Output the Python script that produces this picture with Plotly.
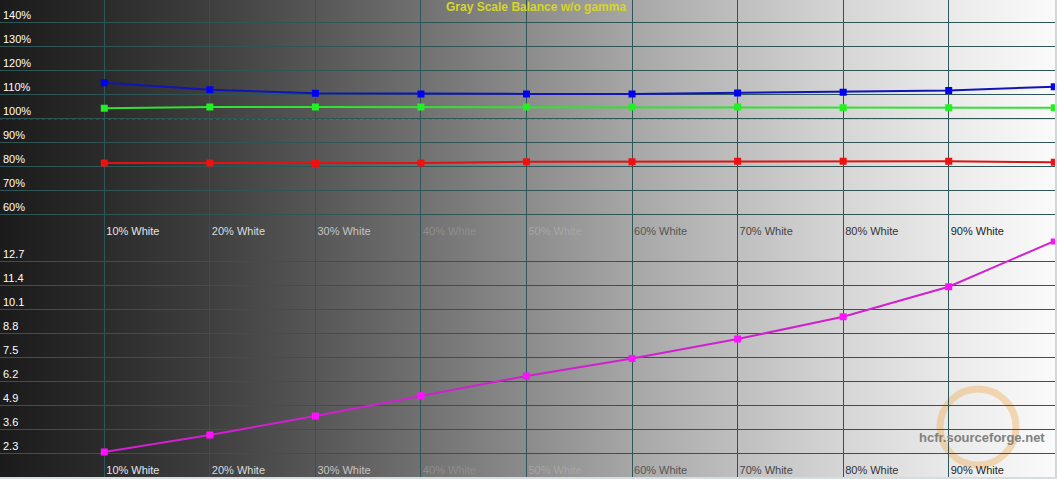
import base64
import plotly.graph_objects as go

# ---------------- data ----------------
levels = [10, 20, 30, 40, 50, 60, 70, 80, 90, 100]
level_labels = ["10% White", "20% White", "30% White", "40% White", "50% White",
                "60% White", "70% White", "80% White", "90% White"]
label_levels = [10, 20, 30, 40, 50, 60, 70, 80, 90]

red_pct = [81.5, 81.5, 81.3, 81.5, 82.0, 82.0, 82.2, 82.2, 82.2, 81.8]
green_pct = [104.3, 104.8, 104.8, 104.8, 104.8, 104.8, 104.8, 104.5, 104.5, 104.5]
blue_pct = [115.0, 112.0, 110.6, 110.3, 110.3, 110.3, 110.7, 111.0, 111.7, 113.3]
delta_e = [2.38, 3.31, 4.34, 5.44, 6.51, 7.45, 8.51, 9.72, 11.35, 13.82]

pct_ticks = [60, 70, 80, 90, 100, 110, 120, 130, 140]
pct_tick_text = ["60%", "70%", "80%", "90%", "100%", "110%", "120%", "130%", "140%"]
de_ticks = [2.3, 3.6, 4.9, 6.2, 7.5, 8.8, 10.1, 11.4, 12.7]
de_tick_text = ["2.3", "3.6", "4.9", "6.2", "7.5", "8.8", "10.1", "11.4", "12.7"]

reference_pct = 100

# ---------------- styling ----------------
W, H = 1057, 479
FONT = "Liberation Sans, Arial, sans-serif"
GRID = "#2e5656"
label_colors = ["#e6e6e6", "#dcdcdc", "#c4c4c4", "#8e8e8e", "#a6a6a6",
                "#555555", "#454545", "#333333", "#222222"]
colored_labels = [f"<span style='color:{c}'>{t}</span>"
                  for c, t in zip(label_colors, level_labels)]

stops = [(0, "#1b1b1b"), (10, "#2b2b2b"), (20, "#3f3f3f"), (30, "#575757"),
         (40, "#717171"), (50, "#8c8c8c"), (60, "#a7a7a7"), (70, "#bfbfbf"),
         (80, "#d6d6d6"), (90, "#eaeaea"), (100, "#fbfbfb")]
stop_xml = "".join(f'<stop offset="{o}%" stop-color="{c}"/>' for o, c in stops)
svg = (f'<svg xmlns="http://www.w3.org/2000/svg" width="{W}" height="{H}" '
       f'viewBox="0 0 {W} {H}" preserveAspectRatio="none">'
       f'<defs><linearGradient id="g" x1="0" y1="0" x2="1" y2="0">{stop_xml}'
       f'</linearGradient></defs><rect x="0" y="0" width="{W}" height="{H}" fill="url(#g)"/></svg>')
bg_uri = "data:image/svg+xml;base64," + base64.b64encode(svg.encode()).decode()

fig = go.Figure()


def series(y, line_color, marker_color, xa, ya, name):
    fig.add_trace(go.Scatter(
        x=levels, y=y, mode="lines+markers", name=name,
        line=dict(color=line_color, width=2),
        marker=dict(symbol="square", size=7, color=marker_color),
        xaxis=xa, yaxis=ya, showlegend=False, hoverinfo="skip"))


series(red_pct, "#dd1414", "#f01010", "x", "y", "Red")
series(green_pct, "#33e033", "#22f022", "x", "y", "Green")
series(blue_pct, "#1414b4", "#0000f5", "x", "y", "Blue")
series(delta_e, "#d020d0", "#ff10ff", "x2", "y2", "dE")

axis_common = dict(showgrid=True, gridcolor=GRID, gridwidth=1, zeroline=False,
                   showline=False, ticks="", tickfont=dict(family=FONT, size=11))
x_common = dict(domain=[0, 1], range=[0.12, 100.26], tickmode="array",
                tickvals=label_levels, ticktext=colored_labels,
                ticklabelposition="inside right", ticklabelshift=2,
                ticklabelstandoff=-5, **axis_common)

fig.update_layout(
    width=W, height=H,
    margin=dict(l=0, r=0, t=0, b=0),
    paper_bgcolor="#7f7f7f",
    plot_bgcolor="rgba(0,0,0,0)",
    showlegend=False,
    xaxis=dict(anchor="y", **x_common),
    yaxis=dict(domain=[0.502, 1], range=[50, 149.46], anchor="x",
               tickmode="array", tickvals=pct_ticks, ticktext=pct_tick_text,
               ticklabelposition="inside top", color="#e6e6e6", **axis_common),
    xaxis2=dict(anchor="y2", **x_common),
    yaxis2=dict(domain=[0.003, 0.502], range=[1.0, 13.96], anchor="x2",
                tickmode="array", tickvals=de_ticks, ticktext=de_tick_text,
                ticklabelposition="inside top", color="#e6e6e6", **axis_common),
    images=[dict(source=bg_uri, xref="paper", yref="paper", x=0, y=1,
                 sizex=1, sizey=1, sizing="stretch", xanchor="left",
                 yanchor="top", layer="below")],
)

# 100 % reference line (dark under white dashes -> visible on dark and light)
fig.add_shape(type="line", xref="paper", yref="y", x0=0, x1=1,
              y0=reference_pct, y1=reference_pct,
              line=dict(color="#2a2a2a", width=1), layer="below")
fig.add_shape(type="line", xref="paper", yref="y", x0=0, x1=1,
              y0=reference_pct, y1=reference_pct,
              line=dict(color="#f4f4f4", width=1, dash="3px,3px"), layer="below")

# window frame on right/bottom edge
fig.add_shape(type="line", xref="paper", yref="paper", x0=0.999, x1=0.999, y0=0, y1=1,
              line=dict(color="#c9d9df", width=2))
fig.add_shape(type="line", xref="paper", yref="paper", x0=0, x1=1, y0=0.002, y1=0.002,
              line=dict(color="#d4dde0", width=2))

# watermark logo ring
fig.add_shape(type="circle", xref="paper", yref="paper",
              x0=940 / W, x1=1016 / W, y0=(H - 465) / H, y1=(H - 389) / H,
              line=dict(color="rgba(240,170,80,0.40)", width=7), layer="below")

# title
fig.add_annotation(text="<b>Gray Scale Balance w/o gamma</b>", xref="paper", yref="paper",
                   x=536 / W, y=1 - 7 / H, xanchor="center", yanchor="middle",
                   showarrow=False, font=dict(family=FONT, size=12, color="#d6d624"))
# watermark text
fig.add_annotation(text="<b>hcfr.sourceforge.net</b>", xref="paper", yref="paper",
                   x=1047 / W, y=(H - 437) / H, xanchor="right", yanchor="middle",
                   showarrow=False, font=dict(family=FONT, size=13, color="#808080"))

fig.write_html("out.html", config={"displayModeBar": False},
               post_script="document.body.style.margin='0';document.body.style.overflow='hidden';")
